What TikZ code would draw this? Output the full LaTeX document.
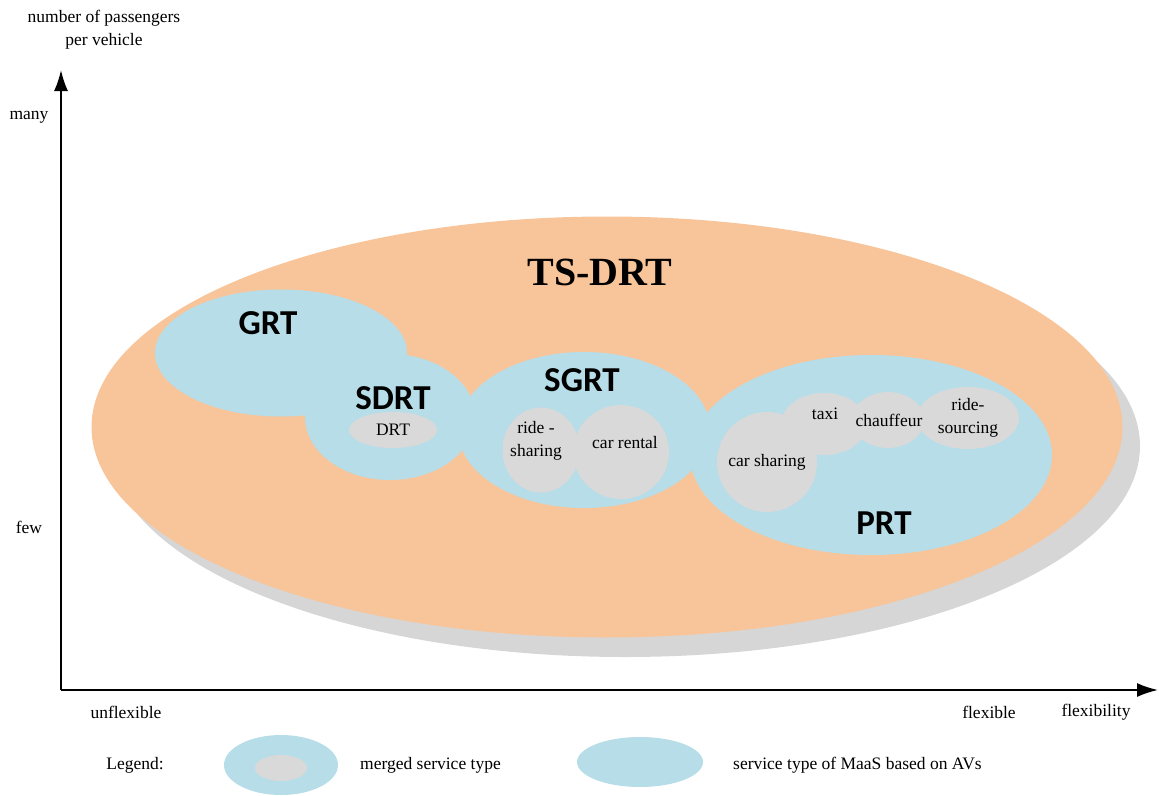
\documentclass[tikz,border=0pt]{standalone}
\usepackage{fontspec}
\setmainfont{Liberation Serif}
\newfontfamily\typefont{Carlito}
\usepackage{tikz}
\usetikzlibrary{arrows.meta}
\usetikzlibrary{positioning}
\usetikzlibrary{shapes.geometric}

\definecolor{tsorange}{HTML}{F8C59B}
\definecolor{avblue}{HTML}{B6DDE8}
\definecolor{mergegray}{HTML}{D9D9D9}
\definecolor{shadowgray}{HTML}{D6D6D6}

\tikzset{
    blob/.style={ellipse, inner sep=0pt, outer sep=0pt, draw=none},
    avtype/.style={blob, fill=avblue},
    merged/.style={blob, fill=mergegray},
    small/.style={font=\fontsize{17.5}{23}\selectfont, align=center, inner sep=0pt},
    typename/.style={font=\typefont\bfseries\fontsize{35}{38}\selectfont, inner sep=0pt},
    axis/.style={line width=1.8pt, -{Latex[length=21pt,width=14pt]}}
}

\begin{document}
\begin{tikzpicture}[x=1pt, y=-1pt]
    \useasboundingbox (0,0) rectangle (1159,795);

    % TS-DRT with its shadow
    \draw (625,446) node[blob, fill=shadowgray, minimum width=1030pt, minimum height=422pt] (shadow) {};
    \draw (607,427) node[blob, fill=tsorange, minimum width=1031pt, minimum height=421pt] (tsdrt) {};
    \draw (600,272) node[font=\bfseries\fontsize{40}{44}\selectfont, inner sep=0pt] (tsdrtlabel) {TS-DRT};

    % service types of MaaS based on AVs
    \draw (281,353) node[avtype, minimum width=252pt, minimum height=127pt] (grt) {};
    \draw (390,417) node[avtype, minimum width=170pt, minimum height=126pt] (sdrt) {};
    \draw (584,430) node[avtype, minimum width=252pt, minimum height=156pt] (sgrt) {};
    \draw (871,455) node[avtype, minimum width=362pt, minimum height=200pt] (prt) {};

    \draw (268,323) node[typename] (grtlabel) {GRT};
    \draw (393,398) node[typename] (sdrtlabel) {SDRT};
    \draw (582,380) node[typename] (sgrtlabel) {SGRT};
    \draw (884,523) node[typename] (prtlabel) {PRT};

    % merged service types
    \draw (393,430) node[merged, minimum width=88pt, minimum height=36pt] (drt) {};
    \draw (541,450) node[merged, minimum width=77pt, minimum height=85pt] (ridesharing) {};
    \draw (621,452) node[merged, minimum width=96pt, minimum height=94pt] (carrental) {};
    \draw (767,462) node[merged, minimum width=100pt, minimum height=100pt] (carsharing) {};
    \draw (824,424) node[merged, minimum width=86pt, minimum height=62pt] (taxi) {};
    \draw (888,420) node[merged, minimum width=72pt, minimum height=56pt] (chauffeur) {};
    \draw (968,418) node[merged, minimum width=102pt, minimum height=62pt] (ridesourcing) {};

    \draw (393,430) node[small] (drtlabel) {DRT};
    \draw (536,441) node[small] (ridesharinglabel) {ride -\\sharing};
    \draw (625,443) node[small] (carrentallabel) {car rental};
    \draw (767,462) node[small] (carsharinglabel) {car sharing};
    \draw (825,414) node[small] (taxilabel) {taxi};
    \draw (889,420) node[small] (chauffeurlabel) {chauffeur};
    \draw (968,418) node[small] (ridesourcinglabel) {ride-\\sourcing};

    % axes
    \coordinate (origin) at (61,690);
    \coordinate (ytip) at (61,70);
    \coordinate (xtip) at (1158,690);
    \draw[axis] (origin) -- (ytip);
    \draw[axis] (origin) -- (xtip);

    \draw (104,30) node[small] (ytitle) {number of passengers\\per vehicle};
    \draw (29,117) node[small] (many) {many};
    \draw (29,527) node[small] (few) {few};
    \draw (126,712) node[small] (unflexible) {unflexible};
    \draw (989,712) node[small] (flexible) {flexible};
    \draw (1096,712) node[small] (xtitle) {flexibility};

    % legend
    \draw (135,765) node[small] (legend) {Legend:};
    \draw (281,765) node[avtype, minimum width=114pt, minimum height=60pt] (legmergedouter) {};
    \draw (281,768) node[merged, minimum width=52pt, minimum height=26pt] (legmergedinner) {};
    \draw (360,765) node[small, anchor=west] (legmergedtext) {merged service type};
    \draw (640,762) node[avtype, minimum width=126pt, minimum height=50pt] (legav) {};
    \draw (733,765) node[small, anchor=west] (legavtext) {service type of MaaS based on AVs};
\end{tikzpicture}
\end{document}
